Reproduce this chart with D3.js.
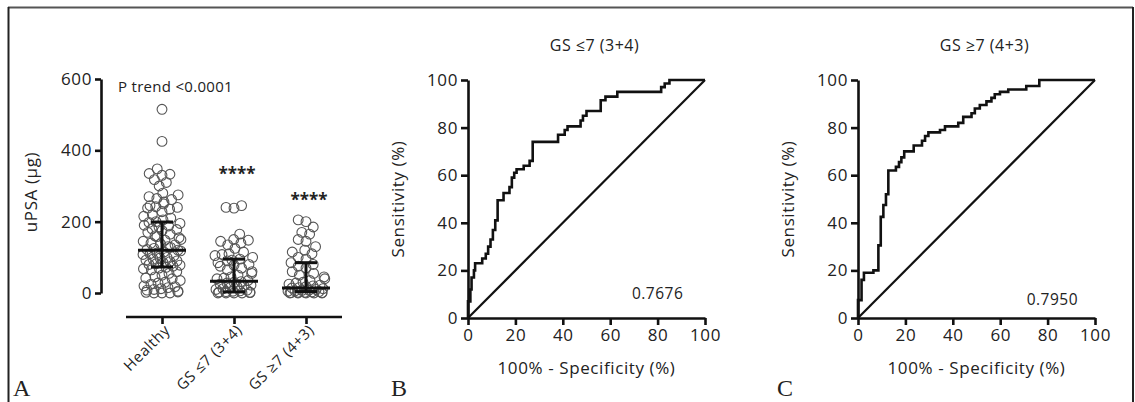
<!DOCTYPE html>
<html>
<head>
<meta charset="utf-8">
<script src="https://cdn.jsdelivr.net/npm/d3@7"></script>
<style>
  body { margin: 0; background: #fff; }
  svg text { font-family: "Open Sans", sans-serif; fill: #222; }
  .panel-letter { font-family: "Liberation Serif", serif !important; font-size: 24px; }
</style>
</head>
<body>
<div id="chart"></div>
<script>
// panel A: uPSA per group
var groups = ["Healthy", "GS \u22647 (3+4)", "GS \u22657 (4+3)"];
var healthy = [515, 425, 348, 335, 333, 330, 318, 310, 300, 280, 275, 270, 265, 262, 255, 250, 245, 242,
  240, 238, 235, 228, 220, 215, 210, 205, 200, 198, 195, 190, 188, 185, 180, 178, 175, 170, 165, 160, 158,
  155, 150, 148, 145, 140, 138, 135, 130, 128, 125, 122, 120, 118, 115, 112, 110, 108, 105, 100, 98, 95,
  92, 90, 88, 85, 82, 80, 78, 75, 72, 70, 68, 65, 60, 55, 50, 45, 42, 40, 35, 30, 28, 25, 20, 18, 15, 12,
  10, 8, 5, 3, 2, 0, 0, 0];
var gs34 = [245, 240, 238, 165, 150, 148, 145, 140, 135, 125, 115, 110, 108, 105, 100, 95, 92, 90, 85, 80,
  78, 75, 70, 65, 60, 55, 50, 45, 42, 40, 35, 32, 30, 28, 25, 22, 20, 18, 15, 12, 10, 8, 6, 5, 4, 3, 2, 1,
  0, 0, 0, 0];
var gs43 = [205, 200, 185, 170, 165, 150, 145, 130, 120, 115, 110, 100, 95, 85, 80, 75, 70, 60, 55, 50, 45,
  40, 35, 30, 28, 25, 22, 20, 18, 15, 14, 12, 10, 8, 7, 6, 5, 4, 3, 2, 2, 1, 1, 0, 0, 0, 0, 0];
var medians = [120, 33, 14];
var lowerQ = [73, 3, 4];
var upperQ = [199, 95, 85];
var yTicksA = [0, 200, 400, 600];

// panel B and C: ROC points (100% - specificity, sensitivity)
var rocB_fpr = [0, 0, 1, 1.5, 2.5, 3, 6, 7.5, 8.5, 9.5, 10.5, 11.5, 12.5, 15, 17.5, 18.5, 19.5, 20.5, 23.5,
  26, 27.3, 38, 40.8, 42, 47.5, 48.5, 50, 56, 58, 63, 81.5, 83, 85, 100];
var rocB_tpr = [0, 7, 12, 17, 20, 23, 25, 27, 30, 33, 37, 41, 49.5, 52.5, 55, 59, 61, 62.5, 64,
  66, 74, 77, 79, 80.5, 83, 85, 87, 91.5, 93, 95, 97, 98.5, 100, 100];
var rocC_fpr = [0, 0, 1.5, 2.5, 6.5, 8.6, 9.6, 10.7, 11.8, 12.8, 16, 17.3, 18.3, 19.5, 23.5, 27, 28.3, 29.7,
  34.6, 36.7, 42.3, 44.4, 47.9, 49.3, 51.4, 54.2, 56.3, 57.7, 59.9, 63.4, 71, 76.5, 100];
var rocC_tpr = [0, 7.5, 16, 19, 20, 30.5, 42.5, 47.5, 52, 62, 63.5, 65.5, 67.5, 70, 72.5, 74.5, 76.5, 78,
  79, 80.5, 82, 84.5, 86, 88, 89.5, 91, 92.5, 94, 95, 96, 97.5, 100, 100];
var rocTicks = [0, 20, 40, 60, 80, 100];

var width = 1135, height = 402;
var svg = d3.select("#chart").append("svg")
  .attr("width", width)
  .attr("height", height);

// frame
svg.append("line").attr("x1", 8).attr("x2", 1133).attr("y1", 7.5).attr("y2", 7.5)
  .attr("stroke", "#555").attr("stroke-width", 2);
svg.append("line").attr("x1", 8.5).attr("x2", 8.5).attr("y1", 7).attr("y2", height)
  .attr("stroke", "#222").attr("stroke-width", 2);
svg.append("line").attr("x1", 1133).attr("x2", 1133).attr("y1", 7).attr("y2", height)
  .attr("stroke", "#222").attr("stroke-width", 2);

function styleAxis(g, size) {
  g.selectAll(".domain").attr("stroke", "#111").attr("stroke-width", 2.6);
  g.selectAll(".tick line").attr("stroke", "#111").attr("stroke-width", 2.6);
  g.selectAll(".tick text").attr("font-size", size).attr("fill", "#222")
    .attr("letter-spacing", 0.6)
    .attr("font-family", "'Open Sans', sans-serif");
}

// ---------- panel A ----------
var yA = d3.scaleLinear().domain([0, 600]).range([293, 79]);
var xA = d3.scalePoint().domain(groups).range([162, 306]);

var gA = svg.append("g");
gA.append("g").attr("transform", "translate(101,0)")
  .call(d3.axisLeft(yA).tickValues(yTicksA).tickSize(6).tickSizeOuter(0).tickPadding(3))
  .call(styleAxis, 17);

var xAxisA = gA.append("g").attr("transform", "translate(0,317)")
  .call(d3.axisBottom(xA).tickSize(7).tickSizeOuter(0).tickFormat(""))
  .call(styleAxis, 13);
xAxisA.select(".domain").remove();
xAxisA.append("line").attr("x1", 126).attr("x2", 342)
  .attr("stroke", "#111").attr("stroke-width", 2.6);

groups.forEach(function (name) {
  gA.append("text")
    .attr("transform", "translate(" + (xA(name) + 9) + ",331) rotate(-45)")
    .attr("text-anchor", "end")
    .attr("font-size", 15)
    .attr("letter-spacing", 0.6)
    .text(name);
});

gA.append("text")
  .attr("transform", "translate(37,192) rotate(-90)")
  .attr("text-anchor", "middle")
  .attr("font-size", 17)
  .attr("letter-spacing", 0.6)
  .text("uPSA (\u03bcg)");

gA.append("text").attr("x", 118).attr("y", 92).attr("font-size", 15)
  .attr("letter-spacing", 0.3).text("P trend <0.0001");

// beeswarm placement
function swarm(vals, cx, dist, maxW) {
  var pts = vals.map(function (v) { return {v: v, y: yA(v), x: 0}; })
    .sort(function (a, b) { return a.v - b.v; });
  var placed = [];
  pts.forEach(function (p) {
    var blocked = [];
    placed.forEach(function (q) {
      var dy = Math.abs(q.y - p.y);
      if (dy < dist) {
        var w = Math.sqrt(dist * dist - dy * dy);
        blocked.push([q.x - w, q.x + w]);
      }
    });
    var cands = [0];
    blocked.forEach(function (b) { cands.push(b[0], b[1]); });
    cands.sort(function (a, b) { return Math.abs(a) - Math.abs(b); });
    var found = null;
    for (var i = 0; i < cands.length; i++) {
      var c = cands[i];
      var ok = blocked.every(function (b) { return c <= b[0] + 1e-6 || c >= b[1] - 1e-6; });
      if (ok && Math.abs(c) <= maxW) { found = c; break; }
    }
    if (found === null) {
      found = ((placed.length * 7) % (maxW * 2)) - maxW;
    }
    p.x = found;
    placed.push(p);
  });
  return pts.map(function (p) { return {x: cx + p.x, y: p.y}; });
}

var series = [healthy, gs34, gs43];
series.forEach(function (vals, i) {
  var pts = swarm(vals, xA(groups[i]), 8, 19);
  gA.append("g").selectAll("circle").data(pts).enter().append("circle")
    .attr("cx", function (d) { return d.x; })
    .attr("cy", function (d) { return d.y; })
    .attr("r", 4.9)
    .attr("fill", "none")
    .attr("stroke", "#555")
    .attr("stroke-width", 1.1);
});

// median and IQR bars
groups.forEach(function (name, i) {
  var cx = xA(name);
  var bar = gA.append("g").attr("stroke", "#111").attr("stroke-width", 3);
  bar.append("line").attr("x1", cx - 24).attr("x2", cx + 24)
    .attr("y1", yA(medians[i])).attr("y2", yA(medians[i]));
  bar.append("line").attr("x1", cx).attr("x2", cx)
    .attr("y1", yA(lowerQ[i])).attr("y2", yA(upperQ[i]));
  bar.append("line").attr("x1", cx - 11).attr("x2", cx + 11)
    .attr("y1", yA(lowerQ[i])).attr("y2", yA(lowerQ[i]));
  bar.append("line").attr("x1", cx - 11).attr("x2", cx + 11)
    .attr("y1", yA(upperQ[i])).attr("y2", yA(upperQ[i]));
});

gA.append("text").attr("x", xA(groups[1]) + 3).attr("y", yA(318)).attr("text-anchor", "middle")
  .attr("font-size", 17).attr("font-weight", "bold").text("****");
gA.append("text").attr("x", xA(groups[2]) + 3).attr("y", yA(245)).attr("text-anchor", "middle")
  .attr("font-size", 17).attr("font-weight", "bold").text("****");

svg.append("text").attr("class", "panel-letter").attr("x", 13).attr("y", 396).text("A");

// ---------- ROC panels ----------
function rocPanel(x0, title, fpr, tpr, auc, aucX, aucY, letter, letterX) {
  var x = d3.scaleLinear().domain([0, 100]).range([x0, x0 + 237]);
  var y = d3.scaleLinear().domain([0, 100]).range([318, 80]);
  var g = svg.append("g");

  g.append("g").attr("transform", "translate(0,318)")
    .call(d3.axisBottom(x).tickValues(rocTicks).tickSize(7).tickSizeOuter(0).tickPadding(4))
    .call(styleAxis, 17);
  g.append("g").attr("transform", "translate(" + x0 + ",0)")
    .call(d3.axisLeft(y).tickValues(rocTicks).tickSize(7).tickSizeOuter(0).tickPadding(3))
    .call(styleAxis, 17);

  // chance line
  g.append("line")
    .attr("x1", x(0)).attr("y1", y(0)).attr("x2", x(100)).attr("y2", y(100))
    .attr("stroke", "#111").attr("stroke-width", 2.2);

  var pts = fpr.map(function (f, i) { return [f, tpr[i]]; });
  var line = d3.line()
    .x(function (d) { return x(d[0]); })
    .y(function (d) { return y(d[1]); })
    .curve(d3.curveStepAfter);
  g.append("path").datum(pts)
    .attr("d", line)
    .attr("fill", "none")
    .attr("stroke", "#111")
    .attr("stroke-width", 2.6);

  g.append("text").attr("x", x(50) + 8).attr("y", 51).attr("text-anchor", "middle")
    .attr("font-size", 16).attr("letter-spacing", 0.5).text(title);
  g.append("text").attr("x", x(50)).attr("y", 374).attr("text-anchor", "middle")
    .attr("font-size", 17).attr("letter-spacing", 0.6).text("100% - Specificity (%)");
  g.append("text")
    .attr("transform", "translate(" + (x0 - 64) + "," + y(50) + ") rotate(-90)")
    .attr("text-anchor", "middle")
    .attr("font-size", 17)
    .attr("letter-spacing", 0.6)
    .text("Sensitivity (%)");
  g.append("text").attr("x", x(aucX)).attr("y", y(aucY)).attr("text-anchor", "middle")
    .attr("font-size", 15.5).attr("letter-spacing", 0.5).text(auc);

  svg.append("text").attr("class", "panel-letter").attr("x", letterX).attr("y", 396).text(letter);
}

rocPanel(468, "GS \u22647 (3+4)", rocB_fpr, rocB_tpr, "0.7676", 80, 8, "B", 391);
rocPanel(858, "GS \u22657 (4+3)", rocC_fpr, rocC_tpr, "0.7950", 82, 5.5, "C", 777);
</script>
</body>
</html>
